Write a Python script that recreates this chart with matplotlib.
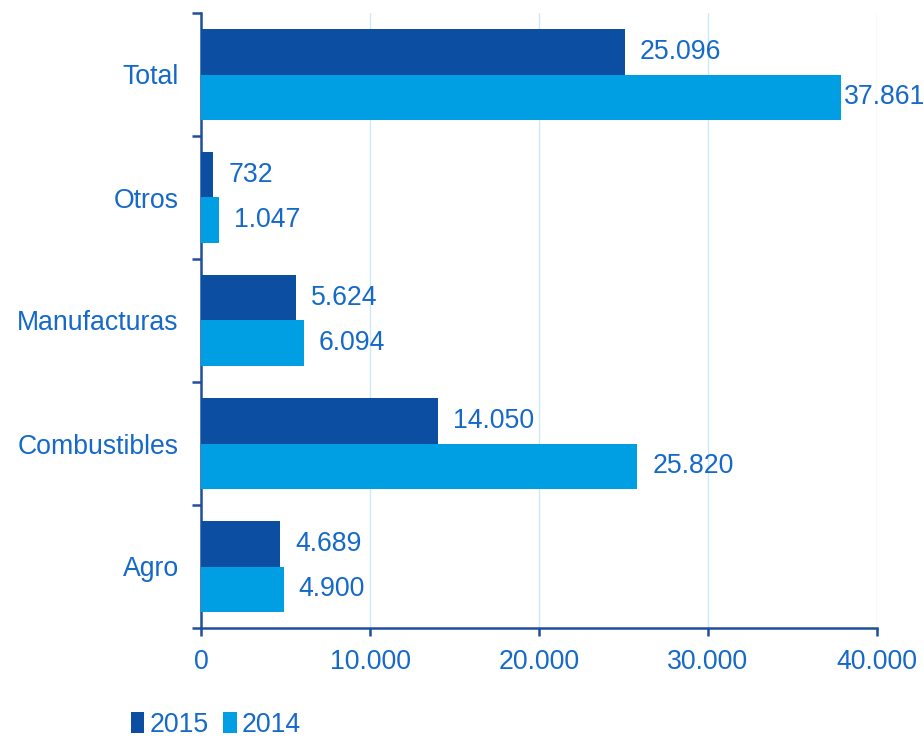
import matplotlib
matplotlib.use("Agg")
import matplotlib.pyplot as plt
from matplotlib.patches import Patch
from matplotlib.ticker import FuncFormatter, FixedLocator
import numpy as np

categories = ["Agro", "Combustibles", "Manufacturas", "Otros", "Total"]
values_2015 = [4689, 14050, 5624, 732, 25096]
values_2014 = [4900, 25820, 6094, 1047, 37861]
series_labels = ["2015", "2014"]
x_ticks = [0, 10000, 20000, 30000, 40000]

DARK = "#0B4EA2"
LIGHT = "#009FE3"
TEXT = "#1569C9"
AXIS = "#1F4E9C"
GRID = "#CDE9F7"
FS = 19.2

plt.rcParams["font.family"] = ["Liberation Sans", "DejaVu Sans"]

fig = plt.figure(figsize=(9.24, 7.40), dpi=100)
ax = fig.add_axes([201 / 924, 1 - 628 / 740, 676 / 924, 615 / 740])

n = len(categories)
centers = np.arange(n) + 0.5
h = 0.366

bars15 = ax.barh(centers + h / 2, values_2015, height=h, color=DARK, label=series_labels[0], zorder=3)
bars14 = ax.barh(centers - h / 2, values_2014, height=h, color=LIGHT, label=series_labels[1], zorder=3)

ax.set_xlim(0, 40000)
ax.set_ylim(0, n)


def fmt(v):
    return f"{v:,.0f}".replace(",", ".")


for bars, vals in ((bars15, values_2015), (bars14, values_2014)):
    for b, v in zip(bars, vals):
        off = 3 if v > 0.9 * 40000 else 15
        ax.annotate(fmt(v), xy=(v, b.get_y() + b.get_height() / 2),
                    xytext=(off * 0.72, 0), textcoords="offset points",
                    ha="left", va="center", fontsize=FS, color=TEXT,
                    annotation_clip=False, zorder=4)

# vertical gridlines
ax.set_xticks(x_ticks)
ax.xaxis.set_major_formatter(FuncFormatter(lambda v, p: fmt(v)))
ax.grid(axis="x", color=GRID, linewidth=1.0, zorder=0)
ax.grid(axis="y", visible=False)

# category boundaries as major ticks, names on minor ticks
ax.yaxis.set_major_locator(FixedLocator(np.arange(n + 1)))
ax.yaxis.set_minor_locator(FixedLocator(centers))
ax.set_yticklabels([], minor=False)
ax.set_yticklabels(categories, minor=True)
ax.tick_params(axis="y", which="major", length=6.5, width=1.8, color=AXIS, direction="out")
ax.tick_params(axis="y", which="minor", length=0, pad=16, labelsize=FS, labelcolor=TEXT)
ax.tick_params(axis="x", which="major", length=6, width=1.8, color=AXIS, direction="out",
               pad=9, labelsize=FS, labelcolor=TEXT)

for side in ("top", "right"):
    ax.spines[side].set_visible(False)
for side in ("left", "bottom"):
    ax.spines[side].set_color(AXIS)
    ax.spines[side].set_linewidth(1.8)

handles = [Patch(facecolor=DARK, label=series_labels[0]),
           Patch(facecolor=LIGHT, label=series_labels[1])]
fig.legend(handles=handles, loc="lower left", bbox_to_anchor=(112 / 924, -0.022),
           ncol=2, frameon=False, fontsize=FS, labelcolor=TEXT,
           handlelength=0.5, handleheight=0.85, handletextpad=0.2,
           columnspacing=0.55, borderpad=0.2)

fig.savefig("out.png", dpi=100)
